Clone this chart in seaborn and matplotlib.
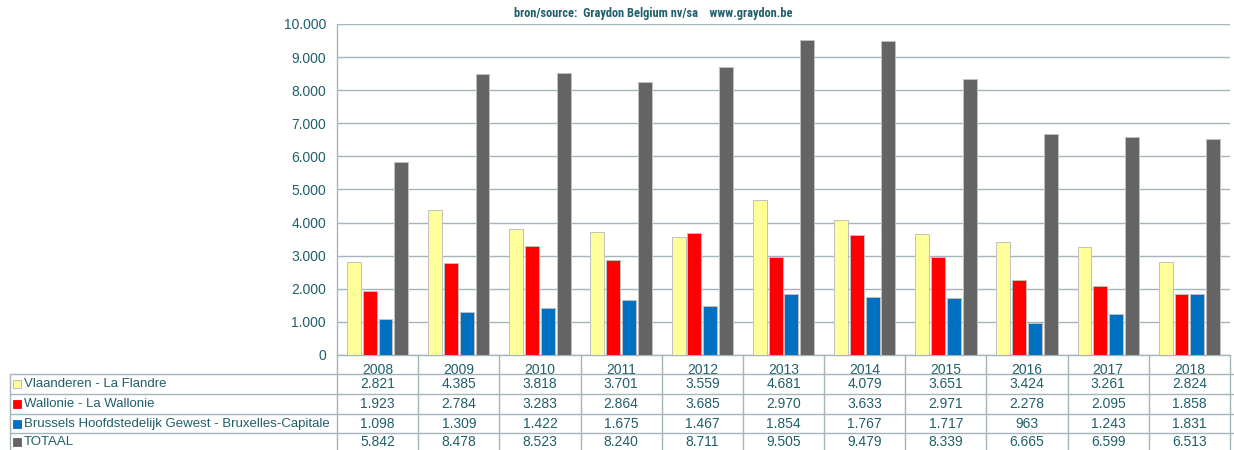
import matplotlib
matplotlib.use("Agg")
import matplotlib.pyplot as plt
import matplotlib.transforms as mtransforms
from matplotlib.lines import Line2D
from matplotlib.patches import Rectangle
from matplotlib.ticker import FuncFormatter, MultipleLocator
from matplotlib import font_manager
import seaborn as sns
import pandas as pd

years = ["2008", "2009", "2010", "2011", "2012", "2013", "2014", "2015", "2016", "2017", "2018"]
series_names = [
    "Vlaanderen - La Flandre",
    "Wallonie - La Wallonie",
    "Brussels Hoofdstedelijk Gewest - Bruxelles-Capitale",
    "TOTAAL",
]
vlaanderen = [2821, 4385, 3818, 3701, 3559, 4681, 4079, 3651, 3424, 3261, 2824]
wallonie = [1923, 2784, 3283, 2864, 3685, 2970, 3633, 2971, 2278, 2095, 1858]
brussel = [1098, 1309, 1422, 1675, 1467, 1854, 1767, 1717, 963, 1243, 1831]
totaal = [5842, 8478, 8523, 8240, 8711, 9505, 9479, 8339, 6665, 6599, 6513]
colors = ["#FFFF99", "#FF0000", "#0070C0", "#646464"]
subtitle = "bron/source:  Graydon Belgium nv/sa    www.graydon.be"

all_values = [vlaanderen, wallonie, brussel, totaal]
rows = []
for name, vals in zip(series_names, all_values):
    for y, v in zip(years, vals):
        rows.append({"year": y, "series": name, "value": v})
df = pd.DataFrame(rows)

TEXT = "#1F5F6B"
LINE = "#A6B4BC"

sns.set_style("white")
plt.rcParams["font.family"] = ["Liberation Sans", "DejaVu Sans"]

installed = {f.name for f in font_manager.fontManager.ttflist}
sub_font, sub_size = "Liberation Sans", 8.0
for cand, size in [("Liberation Sans Narrow", 9.3), ("Roboto Condensed", 8.9)]:
    if cand in installed:
        sub_font, sub_size = cand, size
        break

W, H = 1234, 450
fig = plt.figure(figsize=(W / 100, H / 100), dpi=100)
ax = fig.add_axes([337 / W, 1 - 355 / H, (1230 - 337) / W, (355 - 24) / H])

sns.barplot(data=df, x="year", y="value", hue="series", hue_order=series_names,
            order=years, palette=colors, saturation=1, width=0.78, gap=0.12,
            legend=False, edgecolor="#C0C0C0", linewidth=0.7, ax=ax, zorder=3)

ax.set_xlim(-0.5, len(years) - 0.5)
ax.set_ylim(0, 10000)
ax.yaxis.set_major_locator(MultipleLocator(1000))
ax.yaxis.set_major_formatter(FuncFormatter(lambda v, p: f"{int(v):,}".replace(",", ".")))
ax.grid(axis="y", color=LINE, linewidth=1, zorder=0)
ax.set_axisbelow(True)
ax.set_xlabel("")
ax.set_ylabel("")
for s in ["top", "right"]:
    ax.spines[s].set_visible(False)
for s in ["left", "bottom"]:
    ax.spines[s].set_color(LINE)
    ax.spines[s].set_linewidth(1)
ax.tick_params(axis="y", length=0, pad=8, labelsize=10, labelcolor=TEXT)
ax.tick_params(axis="x", length=0, pad=6, labelsize=10, labelcolor=TEXT)

fig.text(653 / W, 1 - 13 / H, subtitle, ha="center", va="center", fontsize=sub_size,
         fontweight="bold", color=TEXT, family=[sub_font, "DejaVu Sans"])

# data table below the chart
blend = mtransforms.blended_transform_factory(ax.transData, fig.transFigure)
row_lines = [374, 394, 414, 433]
row_centers = [384, 404, 423.5, 442]
for yl in row_lines:
    fig.add_artist(Line2D([10 / W, 1], [1 - yl / H] * 2, color=LINE, lw=1))
fig.add_artist(Line2D([10 / W, 10 / W], [1 - 374 / H, 0], color=LINE, lw=1))
for i in range(len(years) + 1):
    ax.add_artist(Line2D([i - 0.5, i - 0.5], [1 - 355 / H, 0], color=LINE, lw=1,
                         transform=blend, clip_on=False))

for r, (name, vals, c) in enumerate(zip(series_names, all_values, colors)):
    yc = 1 - row_centers[r] / H
    fig.add_artist(Rectangle((13 / W, yc - 4 / H), 8 / W, 8 / H, facecolor=c,
                             edgecolor="#B0B0B0" if r == 0 else c, lw=0.6))
    fig.text(24 / W, yc, name, ha="left", va="center", fontsize=9.5, color=TEXT)
    for i, v in enumerate(vals):
        ax.text(i, yc, f"{v:,}".replace(",", "."), ha="center", va="center",
                fontsize=10, color=TEXT, transform=blend, clip_on=False)

fig.savefig("out.png", dpi=100)
